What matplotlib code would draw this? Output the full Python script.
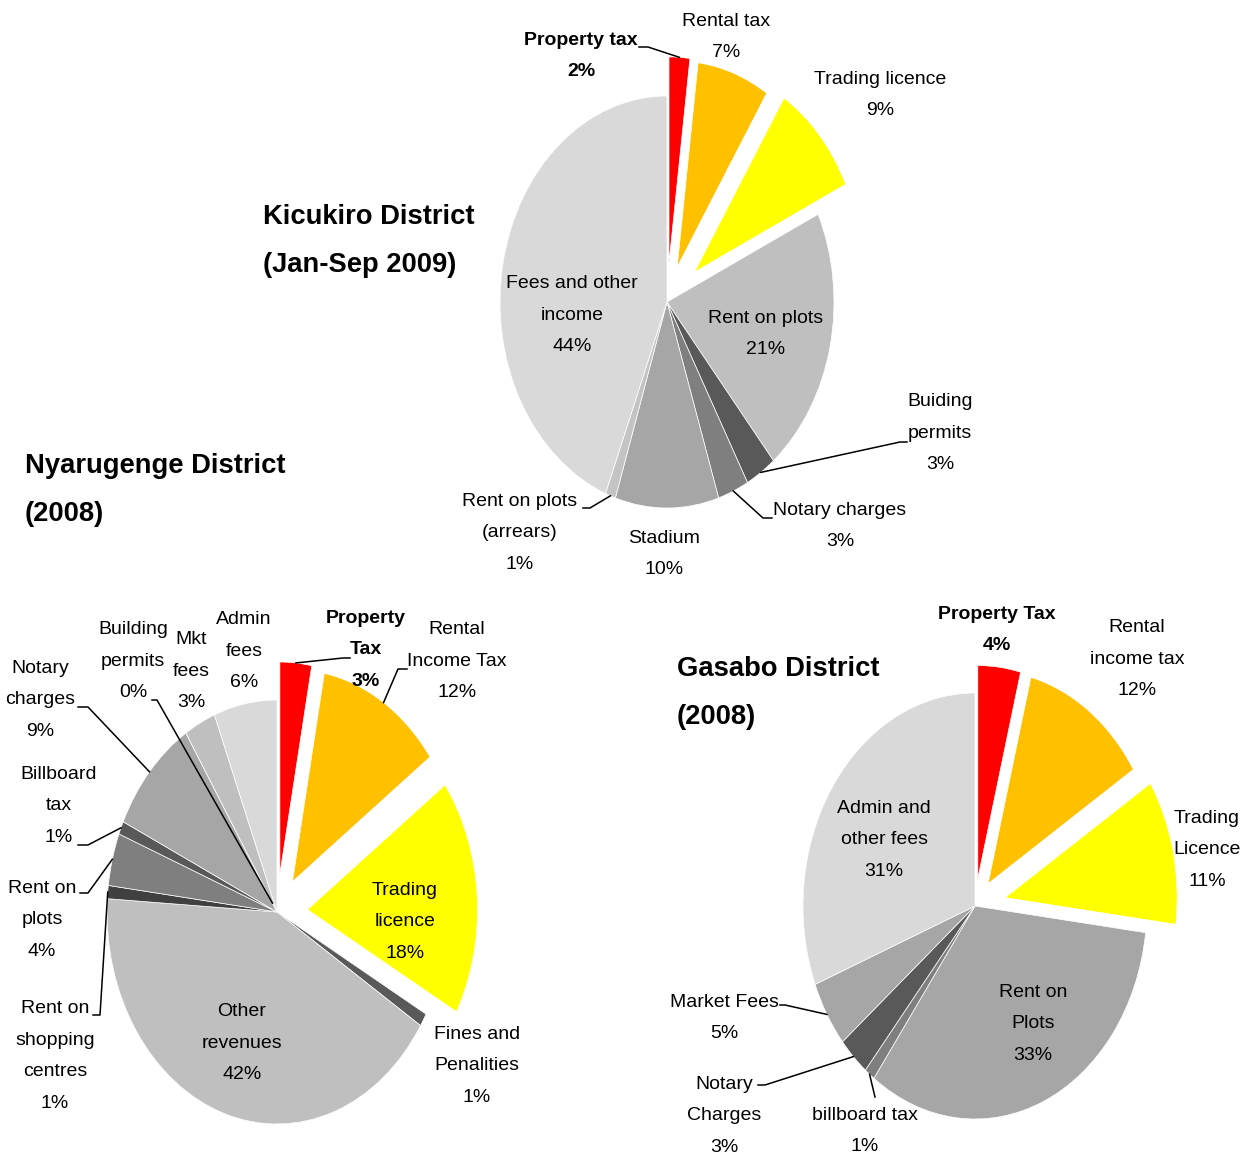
import matplotlib.pyplot as plt
from matplotlib.lines import Line2D
import numpy as np

W, H = 1254, 1159
plt.rcParams['font.family'] = ['Liberation Sans', 'DejaVu Sans']

RED, ORANGE, YELLOW = '#FF0000', '#FFC000', '#FFFF00'

# Kicukiro District (Jan-Sep 2009)
kic_names = ['Property tax', 'Rental tax', 'Trading licence', 'Rent on plots', 'Buiding\npermits',
             'Notary charges', 'Stadium', 'Rent on plots\n(arrears)', 'Fees and other\nincome']
kic_values = [2, 7, 9, 21, 3, 3, 10, 1, 44]
kic_colors = [RED, ORANGE, YELLOW, '#BFBFBF', '#595959', '#7F7F7F', '#A6A6A6', '#C4C4C4', '#D9D9D9']

# Nyarugenge District (2008)
nya_names = ['Property\nTax', 'Rental\nIncome Tax', 'Trading\nlicence', 'Fines and\nPenalities',
             'Other\nrevenues', 'Rent on\nshopping\ncentres', 'Rent on\nplots', 'Billboard\ntax',
             'Notary\ncharges', 'Building\npermits', 'Mkt\nfees', 'Admin\nfees']
nya_values = [3, 12, 18, 1, 42, 1, 4, 1, 9, 0, 3, 6]
nya_colors = [RED, ORANGE, YELLOW, '#595959', '#BFBFBF', '#404040', '#7F7F7F', '#595959',
              '#A6A6A6', '#8C8C8C', '#BFBFBF', '#D9D9D9']

# Gasabo District (2008)
gas_names = ['Property Tax', 'Rental\nincome tax', 'Trading\nLicence', 'Rent on\nPlots',
             'billboard tax', 'Notary\nCharges', 'Market Fees', 'Admin and\nother fees']
gas_values = [4, 12, 11, 33, 1, 3, 5, 31]
gas_colors = [RED, ORANGE, YELLOW, '#A6A6A6', '#7F7F7F', '#595959', '#A6A6A6', '#D9D9D9']

fig = plt.figure(figsize=(W / 100, H / 100), dpi=100)


def draw_pie(cx, cy, rx, ry, values, colors, explode):
    L = 1.4
    ax = fig.add_axes([(cx - L * rx) / W, (H - cy - L * ry) / H, 2 * L * rx / W, 2 * L * ry / H])
    wedges, _ = ax.pie(values, colors=colors, explode=explode, startangle=90, counterclock=False,
                       wedgeprops=dict(edgecolor='white', linewidth=0.5))
    ax.set_aspect('auto')
    ax.set_xlim(-L, L)
    ax.set_ylim(-L, L)
    ax.axis('off')
    return ax, wedges


def label(x, y, s, size=14, bold=False, ha='center', ls=2.15):
    fig.text(x / W, 1 - y / H, s, ha=ha, va='center', fontsize=size,
             fontweight='bold' if bold else 'normal', linespacing=ls)


def leader(ax, w, pts, r=1.0):
    # start on the wedge edge at its mid angle, then through the given pixel points
    a = np.deg2rad((w.theta1 + w.theta2) / 2)
    x0, y0 = ax.transData.transform((w.center[0] + r * w.r * np.cos(a),
                                     w.center[1] + r * w.r * np.sin(a)))
    xs = [x0 / W] + [p[0] / W for p in pts]
    ys = [y0 / H] + [1 - p[1] / H for p in pts]
    fig.add_artist(Line2D(xs, ys, color='black', linewidth=1.1, transform=fig.transFigure))


# ---- Kicukiro
ax1, w1 = draw_pie(667, 302, 167, 206, kic_values, kic_colors, [0.19, 0.18, 0.22, 0, 0, 0, 0, 0, 0])
kic_pos = [(581, 56), (726, 37), (880, 95), (766, 334), (940, 433), (840, 526), (664, 554),
           (520, 533), (572, 315)]
for i, (n, v) in enumerate(zip(kic_names, kic_values)):
    label(*kic_pos[i], f'{n}\n{v}%', bold=(i == 0))
leader(ax1, w1[0], [(648, 47), (639, 47)])
leader(ax1, w1[4], [(900, 442), (907, 442)])
leader(ax1, w1[5], [(763, 518), (772, 518)])
leader(ax1, w1[7], [(590, 508), (583, 508)])
label(263, 241, 'Kicukiro District\n(Jan-Sep 2009)', size=19.7, bold=True, ha='left', ls=2.1)

# ---- Nyarugenge
ax2, w2 = draw_pie(277, 912, 170, 212, nya_values, nya_colors,
                   [0.18, 0.17, 0.18, 0, 0, 0, 0, 0, 0, 0, 0, 0])
nya_pos = [(366, 650), (457, 661), (405, 922), (477, 1066), (242, 1043), (55, 1056), (42, 920),
           (59, 806), (40, 700), (133, 661), (191, 671), (244, 651)]
for i, (n, v) in enumerate(zip(nya_names, nya_values)):
    label(*nya_pos[i], f'{n}\n{v}%', bold=(i == 0))
leader(ax2, w2[0], [(343, 658), (350, 658)])
leader(ax2, w2[1], [(398, 669), (407, 669)])
leader(ax2, w2[5], [(100, 1015), (93, 1015)])
leader(ax2, w2[6], [(88, 893), (80, 893)])
leader(ax2, w2[7], [(88, 845), (78, 845)])
leader(ax2, w2[8], [(88, 707), (78, 707)])
leader(ax2, w2[9], [(157, 700), (152, 700)], r=0.05)
label(25, 490, 'Nyarugenge District\n(2008)', size=19.7, bold=True, ha='left', ls=2.1)

# ---- Gasabo
ax3, w3 = draw_pie(975, 906, 172, 213, gas_values, gas_colors, [0.13, 0.13, 0.18, 0, 0, 0, 0, 0])
gas_pos = [(997, 630), (1137, 659), (1207, 850), (1033, 1024), (865, 1131), (724, 1116),
           (724, 1018), (884, 840)]
for i, (n, v) in enumerate(zip(gas_names, gas_values)):
    label(*gas_pos[i], f'{n}\n{v}%', bold=(i == 0))
leader(ax3, w3[6], [(785, 1005), (780, 1005)])
leader(ax3, w3[5], [(765, 1085), (758, 1085)])
leader(ax3, w3[4], [(875, 1097)])
label(677, 693, 'Gasabo District\n(2008)', size=19.7, bold=True, ha='left', ls=2.1)

fig.savefig('out.png', dpi=100)
